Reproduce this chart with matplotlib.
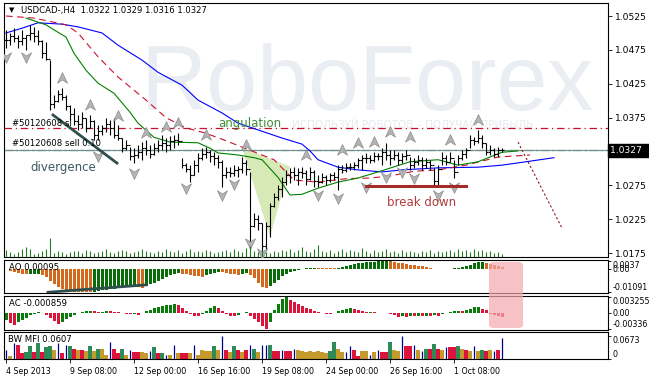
import numpy as np
import matplotlib.pyplot as plt
import matplotlib.transforms as mtransforms
from matplotlib.path import Path
from matplotlib.patches import Polygon, FancyBboxPatch

plt.rcParams['font.family'] = ['DejaVu Sans']
plt.rcParams['axes.unicode_minus'] = False

# --- dane: USDCAD H4, 125 swiec ---
highs = [1.0504, 1.0500, 1.0507, 1.0497, 1.0504, 1.0497, 1.0512, 1.0509, 1.0504, 1.0490,
         1.0487, 1.0460, 1.0408, 1.0416, 1.0419, 1.0408, 1.0394, 1.0389, 1.0379, 1.0383,
         1.0374, 1.0379, 1.0372, 1.0364, 1.0364, 1.0374, 1.0372, 1.0374, 1.0364, 1.0345,
         1.0342, 1.0332, 1.0330, 1.0335, 1.0339, 1.0342, 1.0335, 1.0338, 1.0342, 1.0349,
         1.0345, 1.0348, 1.0349, 1.0352, 1.0316, 1.0308, 1.0305, 1.0313, 1.0323, 1.0330,
         1.0332, 1.0327, 1.0324, 1.0320, 1.0313, 1.0302, 1.0302, 1.0305, 1.0304, 1.0317,
         1.0313, 1.0295, 1.0234, 1.0232, 1.0220, 1.0221, 1.0249, 1.0264, 1.0276, 1.0287,
         1.0298, 1.0301, 1.0302, 1.0301, 1.0302, 1.0298, 1.0302, 1.0298, 1.0290, 1.0293,
         1.0290, 1.0293, 1.0295, 1.0305, 1.0305, 1.0308, 1.0308, 1.0310, 1.0316, 1.0320,
         1.0323, 1.0320, 1.0324, 1.0323, 1.0330, 1.0338, 1.0327, 1.0327, 1.0324, 1.0323,
         1.0327, 1.0317, 1.0316, 1.0320, 1.0317, 1.0316, 1.0313, 1.0301, 1.0305, 1.0324,
         1.0320, 1.0324, 1.0313, 1.0320, 1.0327, 1.0330, 1.0349, 1.0346, 1.0357, 1.0349,
         1.0338, 1.0335, 1.0330, 1.0332, 1.0330]
lows = [1.0478, 1.0482, 1.0487, 1.0478, 1.0482, 1.0475, 1.0490, 1.0487, 1.0482, 1.0463,
        1.0460, 1.0386, 1.0389, 1.0398, 1.0401, 1.0386, 1.0372, 1.0364, 1.0357, 1.0360,
        1.0354, 1.0360, 1.0342, 1.0342, 1.0349, 1.0354, 1.0349, 1.0345, 1.0342, 1.0324,
        1.0327, 1.0313, 1.0308, 1.0316, 1.0313, 1.0320, 1.0316, 1.0320, 1.0324, 1.0327,
        1.0324, 1.0327, 1.0330, 1.0335, 1.0301, 1.0295, 1.0280, 1.0290, 1.0295, 1.0313,
        1.0316, 1.0310, 1.0305, 1.0301, 1.0273, 1.0286, 1.0287, 1.0289, 1.0287, 1.0293,
        1.0290, 1.0184, 1.0214, 1.0209, 1.0172, 1.0180, 1.0199, 1.0243, 1.0254, 1.0258,
        1.0276, 1.0279, 1.0283, 1.0276, 1.0286, 1.0276, 1.0283, 1.0273, 1.0273, 1.0279,
        1.0276, 1.0280, 1.0283, 1.0268, 1.0293, 1.0295, 1.0298, 1.0298, 1.0301, 1.0298,
        1.0308, 1.0308, 1.0310, 1.0313, 1.0305, 1.0313, 1.0305, 1.0313, 1.0305, 1.0308,
        1.0313, 1.0298, 1.0301, 1.0305, 1.0298, 1.0301, 1.0298, 1.0273, 1.0276, 1.0305,
        1.0305, 1.0310, 1.0286, 1.0305, 1.0313, 1.0316, 1.0330, 1.0335, 1.0338, 1.0330,
        1.0320, 1.0320, 1.0317, 1.0317, 1.0324]
closes = [1.0490, 1.0495, 1.0492, 1.0488, 1.0493, 1.0497, 1.0500, 1.0495, 1.0488, 1.0470,
          1.0462, 1.0395, 1.0400, 1.0410, 1.0405, 1.0392, 1.0380, 1.0370, 1.0365, 1.0375,
          1.0360, 1.0370, 1.0350, 1.0355, 1.0360, 1.0365, 1.0360, 1.0350, 1.0345, 1.0330,
          1.0335, 1.0318, 1.0320, 1.0325, 1.0330, 1.0328, 1.0322, 1.0330, 1.0335, 1.0338,
          1.0335, 1.0340, 1.0342, 1.0340, 1.0305, 1.0300, 1.0290, 1.0305, 1.0315, 1.0322,
          1.0325, 1.0318, 1.0315, 1.0310, 1.0290, 1.0295, 1.0293, 1.0298, 1.0300, 1.0308,
          1.0300, 1.0215, 1.0225, 1.0220, 1.0185, 1.0215, 1.0245, 1.0258, 1.0270, 1.0280,
          1.0290, 1.0295, 1.0290, 1.0295, 1.0293, 1.0285, 1.0295, 1.0282, 1.0280, 1.0288,
          1.0283, 1.0290, 1.0288, 1.0300, 1.0298, 1.0303, 1.0302, 1.0305, 1.0312, 1.0315,
          1.0315, 1.0312, 1.0318, 1.0318, 1.0325, 1.0320, 1.0315, 1.0320, 1.0312, 1.0318,
          1.0320, 1.0305, 1.0310, 1.0312, 1.0305, 1.0310, 1.0305, 1.0282, 1.0300, 1.0315,
          1.0310, 1.0315, 1.0295, 1.0315, 1.0322, 1.0328, 1.0342, 1.0340, 1.0345, 1.0338,
          1.0325, 1.0328, 1.0322, 1.0328, 1.0327]
volumes = [700, 500, 300, 500, 800, 1000, 800, 300, 400, 600,
           800, 1900, 400, 600, 500, 300, 500, 600, 600, 400,
           700, 600, 400, 500, 600, 800, 500, 400, 600, 700,
           600, 400, 500, 600, 800, 600, 500, 400, 600, 500,
           800, 600, 500, 700, 400, 600, 800, 500, 600, 500,
           700, 600, 400, 500, 600, 700, 500, 800, 600, 500,
           900, 1100, 600, 500, 700, 500, 400, 600, 500, 700,
           600, 800, 500, 700, 1000, 600, 500, 800, 1200, 600,
           500, 700, 400, 600, 800, 500, 700, 600, 500, 900,
           600, 400, 700, 500, 600, 800, 500, 600, 400, 700,
           500, 600, 500, 400, 600, 500, 700, 400, 600, 500,
           600, 700, 500, 800, 600, 700, 500, 800, 600, 700,
           500, 600, 400, 500, 300]

# srednie (indeks swiecy, cena)
blue_idx = [0, 4, 8, 14, 18, 24, 28, 34, 38, 44, 48, 54, 58, 64, 69, 74, 76, 78, 83, 88, 94, 99, 108, 118, 124, 130, 137]
blue_val = [1.0500, 1.0507, 1.0515, 1.0513, 1.0509, 1.0500, 1.0482, 1.0460, 1.0442, 1.0423, 1.0401, 1.0382, 1.0367,
            1.0355, 1.0345, 1.0336, 1.0326, 1.0313, 1.0302, 1.0298, 1.0295, 1.0298, 1.0301, 1.0302, 1.0305, 1.0310, 1.0316]
red_idx = [0, 7, 15, 18, 23, 28, 35, 40, 45, 50, 55, 61, 67, 72, 78, 85, 91, 96, 102, 108, 115, 123, 131]
red_val = [1.0525, 1.0522, 1.0512, 1.0500, 1.0465, 1.0435, 1.0401, 1.0375, 1.0360, 1.0352, 1.0341, 1.0327,
           1.0313, 1.0283, 1.0280, 1.0285, 1.0286, 1.0289, 1.0296, 1.0298, 1.0305, 1.0317, 1.0320]
green_idx = [5, 10, 13, 15, 17, 20, 23, 27, 31, 33, 37, 41, 48, 51, 53, 58, 62, 64, 68, 71, 74, 78, 83, 88,
             93, 101, 108, 113, 118, 124, 128]
green_val = [1.0522, 1.0512, 1.0501, 1.0494, 1.0470, 1.0445, 1.0426, 1.0411, 1.0383, 1.0367, 1.0346, 1.0339,
             1.0338, 1.0330, 1.0323, 1.0320, 1.0316, 1.0313, 1.0287, 1.0261, 1.0262, 1.0271, 1.0280, 1.0286,
             1.0295, 1.0310, 1.0313, 1.0305, 1.0310, 1.0324, 1.0326]

# fraktale
up_idx = [14, 21, 28, 35, 40, 43, 50, 60, 75, 84, 88, 92, 96, 101, 111, 118]
up_val = [1.0433, 1.0394, 1.0378, 1.0352, 1.0361, 1.0367, 1.0349, 1.0335, 1.0320, 1.0327, 1.0338, 1.0339,
          1.0354, 1.0346, 1.0342, 1.0372]
dn_idx = [0, 5, 23, 32, 45, 54, 57, 61, 64, 78, 83, 90, 95, 99, 102, 108, 112]
dn_val = [1.0465, 1.0465, 1.0318, 1.0293, 1.0271, 1.0261, 1.0277, 1.0190, 1.0175, 1.0261, 1.0257, 1.0273,
          1.0288, 1.0295, 1.0286, 1.0261, 1.0273]

# Awesome Oscillator, Accelerator (x 0.001)
ao = [-0.3, -1.0, -1.5, -2.0, -2.3, -2.5, -2.4, -2.3, -2.2, -3.0,
      -4.0, -5.5, -7.0, -8.5, -9.5, -10.2, -10.45, -10.6, -10.75, -10.85,
      -10.9, -10.91, -10.7, -10.4, -10.1, -9.8, -9.5, -9.2, -8.9, -8.6,
      -8.4, -8.2, -8.0, -8.4, -8.8, -8.2, -7.3, -6.4, -5.5, -4.6,
      -3.8, -3.0, -2.4, -1.9, -2.2, -2.6, -3.0, -3.3, -3.5, -3.6,
      -3.0, -2.4, -1.8, -1.4, -1.7, -2.0, -2.3, -2.5, -2.7, -2.4,
      -2.1, -3.0, -4.5, -6.5, -8.5, -9.0, -8.0, -6.5, -5.0, -3.5,
      -2.3, -1.5, -1.0, -0.6, -0.3, 0.2, 0.4, 0.5, 0.4, 0.3,
      0.25, 0.2, 0.15, 0.5, 0.9, 1.4, 1.8, 2.2, 2.5, 2.8,
      3.0, 3.2, 3.4, 3.5, 3.6, 3.7, 3.5, 3.2, 2.9, 2.6,
      2.3, 2.0, 1.7, 1.4, 1.1, 0.8, 0.4, 0.1, -0.1, -0.2,
      -0.3, 0.0, 0.3, 0.6, 0.9, 1.2, 1.8, 2.5, 3.0, 3.3,
      2.8, 2.3, 1.8, 1.3, 0.95]
ac = [-1.6, -2.2, -2.6, -2.0, -1.5, -1.0, -0.5, -0.2, 0.1, 0.0,
      -0.4, -1.0, -1.8, -2.4, -2.0, -1.4, -0.8, -0.4, -0.1, 0.1,
      0.3, 0.4, 0.3, 0.2, 0.25, 0.35, 0.3, 0.2, 0.1, 0.0,
      -0.2, -0.3, -0.2, -0.4, -0.1, 0.3, 0.6, 0.9, 1.2, 1.4,
      1.6, 1.7, 1.8, 1.6, 1.0, 0.4, -0.3, -0.6, -0.7, -0.2,
      0.4, 1.0, 1.5, 1.0, 0.4, -0.3, -0.6, -0.7, -0.4, -0.1,
      0.1, -0.7, -1.3, -2.0, -2.8, -3.36, -2.0, 0.6, 1.8, 2.8,
      3.255, 2.7, 2.3, 1.8, 1.4, 1.0, 0.7, 0.4, 0.1, -0.1,
      -0.2, -0.3, -0.1, 0.3, 0.6, 0.8, 0.9, 0.7, 0.5, 0.3,
      0.1, 0.2, 0.1, 0.0, -0.1, 0.0, -0.3, -0.5, -0.8, -0.7,
      -0.8, -0.6, -0.7, -0.6, -0.7, -0.6, -0.7, -0.5, -0.6, -0.3,
      -0.1, 0.1, 0.3, 0.4, 0.3, 0.5, 0.8, 1.1, 1.2, 0.8,
      0.5, -0.2, -0.4, -0.6, -0.859]
# BW MFI (x 0.001) i kolory: g=zielony, r=czerwony, y=fade, b=fake
mfi = [27, 10, 47, 40, 17, 20, 37, 20, 47, 20,
       34, 37, 27, 47, 17, 40, 37, 30, 27, 27,
       24, 37, 24, 30, 30, 13, 50, 30, 17, 30,
       13, 27, 20, 20, 20, 17, 24, 34, 17, 17,
       13, 13, 40, 17, 17, 17, 17, 40, 13, 27,
       24, 24, 37, 27, 67.3, 27, 20, 37, 27, 20,
       27, 40, 30, 20, 40, 40, 40, 24, 24, 27,
       24, 24, 30, 27, 24, 20, 24, 20, 24, 20,
       17, 24, 50, 30, 20, 20, 37, 27, 10, 24,
       24, 13, 20, 27, 20, 20, 50, 27, 24, 67.3,
       37, 37, 40, 27, 24, 30, 30, 44, 30, 27,
       34, 34, 34, 37, 30, 27, 24, 37, 24, 27,
       24, 27, 24, 27, 60.7]
mfi_kod = ("bybrrggrgr" "ggybrbgryr" "ygygyybrrg" "ybrryybgrg" "bybyrrybyy"
           "yygybrygry" "rbgybbgrrb" "rrbyyyyyyy" "yggyybbrry" "ybybrrgyyb"
           "rrbybgrgry" "brrgyrybyg" "rybrb")

date_idx = [0, 16, 32, 48, 64, 80, 96, 112]
date_lab = ['4 Sep 2013', '9 Sep 08:00', '12 Sep 00:00', '16 Sep 16:00', '19 Sep 08:00',
            '24 Sep 00:00', '26 Sep 16:00', '1 Oct 08:00']
price_ticks = [1.0525, 1.0475, 1.0425, 1.0375, 1.0275, 1.0225, 1.0175]
bid = 1.0327
sl_level = 1.0360
sell_level = 1.0328
brk_level = 1.0274

W, H = 649, 379
FS = 6.6     # etykiety osi cen
FS_I = 5.7   # etykiety osi wskaznikow
FS_T = 6.1   # tytuly i etykiety
FS_D = 5.7   # daty


def rect(l, t, r, b):
    return [l / W, 1 - b / H, (r - l) / W, (b - t) / H]


def fx(p):
    return p / W


def fy(p):
    return 1 - p / H


fig = plt.figure(figsize=(W / 100, H / 100), dpi=100)
ax = fig.add_axes(rect(4, 3, 608, 257))
ax_ao = fig.add_axes(rect(4, 260, 608, 293))
ax_ac = fig.add_axes(rect(4, 296, 608, 330))
ax_mfi = fig.add_axes(rect(4, 332, 608, 359))

x = np.arange(len(highs))
hi = np.array(highs)
lo = np.array(lows)
cl = np.array(closes)
op = np.r_[cl[0], cl[:-1]]

for a in (ax, ax_ao, ax_ac, ax_mfi):
    a.set_xlim(-0.5, 150.5)
    for s in a.spines.values():
        s.set_linewidth(0.8)
        s.set_color('black')
    a.yaxis.tick_right()
    a.tick_params(axis='y', left=False, labelleft=False, right=True, labelright=True,
                  direction='out', length=3, width=0.6, labelsize=FS, pad=2)
    a.tick_params(axis='x', bottom=False, labelbottom=False)
for a in (ax_ao, ax_ac, ax_mfi):
    a.tick_params(axis='y', labelsize=FS_I, length=2, pad=1)

# znak wodny
ax.text(fx(140), fy(110), 'RoboForex', transform=fig.transFigure, fontsize=66,
        family='Liberation Sans', color='#eaeef2', zorder=0)
ax.text(fx(292), fy(125), 'ИСПОЛЬЗУЙ РОБОТОВ – ПОЛУЧАЙ ПРИБЫЛЬ', transform=fig.transFigure,
        fontsize=7.5, color='#e6eaee', va='center', zorder=0)

# trojkat "angulation"
ax.add_patch(Polygon([(59, 1.0331), (71, 1.0303), (66, 1.0200)], closed=True,
                     facecolor='#d8e9b8', edgecolor='none', zorder=1))

# poziomy zlecenia
ax.axhline(sl_level, color='#c8102e', lw=0.9, ls=(0, (6, 3, 1, 3)), zorder=2)
ax.axhline(sell_level, color='#008000', lw=0.9, ls=(0, (7, 2, 2, 2)), zorder=2)
ax.axhline(bid, color='#778899', lw=0.8, zorder=2)

# srednie
ax.plot(blue_idx, blue_val, color='#0000ff', lw=0.8, zorder=3)
ax.plot(red_idx, red_val, color='#c8102e', lw=0.8, ls=(0, (6, 4)), zorder=3)
ax.plot(green_idx, green_val, color='#008000', lw=0.8, zorder=3)

# swiece OHLC
ax.vlines(x, lo, hi, color='black', lw=0.8, zorder=4)
ax.hlines(op, x - 0.45, x, color='black', lw=0.8, zorder=4)
ax.hlines(cl, x, x + 0.45, color='black', lw=0.8, zorder=4)

# fraktale
up_m = Path([(0, 1), (0.85, -0.8), (0, -0.25), (-0.85, -0.8), (0, 1)],
            [Path.MOVETO, Path.LINETO, Path.LINETO, Path.LINETO, Path.CLOSEPOLY])
dn_m = Path([(0, -1), (0.85, 0.8), (0, 0.25), (-0.85, 0.8), (0, -1)],
            [Path.MOVETO, Path.LINETO, Path.LINETO, Path.LINETO, Path.CLOSEPOLY])
ax.plot(up_idx, up_val, ls='none', marker=up_m, ms=8.5, mfc='#b4b4b4', mec='#8c8c8c', mew=0.5, zorder=5)
ax.plot(dn_idx, dn_val, ls='none', marker=dn_m, ms=8.5, mfc='#b4b4b4', mec='#8c8c8c', mew=0.5, zorder=5)

# analiza graficzna
ax.plot([11.75, 27.75], [1.0379, 1.0308], color='#2f4f4f', lw=2, zorder=6)
ax.text(fx(30), fy(168), 'divergence', transform=fig.transFigure, fontsize=8.5,
        color='#3b5a62', va='center', zorder=6)
ax.text(fx(218), fy(123), 'angulation', transform=fig.transFigure, fontsize=8.5,
        color='#3f8f3a', va='center', zorder=6)
ax.plot([90, 115], [brk_level, brk_level], color='#a52a2a', lw=2.2, zorder=6)
ax.text(fx(387), fy(203), 'break down', transform=fig.transFigure, fontsize=8.5,
        color='#b03c3c', va='center', zorder=6)
ax.plot([128, 139], [1.0339, 1.0212], color='#8b1a1a', lw=0.8, ls=(0, (2, 2)), zorder=6)

ax.set_ylim(1.01695, 1.05442)
ax.set_yticks(price_ticks)
ax.set_yticklabels([f'{p:.4f}' for p in price_ticks])
blend = mtransforms.blended_transform_factory(ax.transAxes, ax.transData)
ax.text(1.004, bid, '1.0327  ', transform=blend, color='white', fontsize=FS, va='center',
        ha='left', bbox=dict(facecolor='black', edgecolor='black', pad=1.6), zorder=7)

# wolumen (osobna przezroczysta os na dole glownego okna)
ax_v = fig.add_axes(rect(4, 3, 608, 257), frameon=False)
ax_v.set_xlim(-0.5, 150.5)
ax_v.set_ylim(0, 25300)
ax_v.vlines(x, 0, volumes, color='#237a23', lw=0.8)
ax_v.axis('off')

fig.text(fx(12), fy(10), '▼', fontsize=5, va='center', ha='center')
fig.text(fx(21), fy(11), 'USDCAD-,H4  1.0322 1.0329 1.0316 1.0327', fontsize=FS_T, va='center')
ax.text(fx(12), fy(123), '#50120608 sl', transform=fig.transFigure, fontsize=FS_T, va='center', zorder=6)
ax.text(fx(12), fy(143), '#50120608 sell 0.10', transform=fig.transFigure, fontsize=FS_T,
        va='center', zorder=6)

# AO
ao_v = np.array(ao) * 1e-3
ao_col = ['#d2691e' if i > 0 and ao_v[i] < ao_v[i - 1] else '#0a6b0a' for i in range(len(ao_v))]
ax_ao.bar(x, ao_v, width=0.75, color=ao_col, linewidth=0)
ax_ao.plot([10.5, 35], [-0.01095, -0.0075], color='#2f4f4f', lw=2)
ax_ao.set_ylim(-0.0113, 0.0041)
ax_ao.set_yticks([0.0037, 0.0, -0.01091])
ax_ao.set_yticklabels(['0.0037', '0.00', '-0.01091'])
fig.text(fx(9), fy(268), 'AO 0.00095', fontsize=FS_T, va='center')

# AC
ac_v = np.array(ac) * 1e-3
ac_col = ['#dc143c' if i > 0 and ac_v[i] < ac_v[i - 1] else '#0a7a0a' for i in range(len(ac_v))]
ax_ac.bar(x, ac_v, width=0.75, color=ac_col, linewidth=0)
ax_ac.set_ylim(-0.0036, 0.0035)
ax_ac.set_yticks([0.003255, 0.0, -0.00336])
ax_ac.set_yticklabels(['0.003255', '0.00', '-0.00336'])
fig.text(fx(9), fy(304), 'AC -0.000859', fontsize=FS_T, va='center')

# BW MFI
kolory = {'g': '#2e8b57', 'r': '#dc143c', 'y': '#c49a2c', 'b': '#00008b'}
mfi_v = np.array(mfi) * 1e-3
kody = np.array(list(mfi_kod))
szer = kody != 'b'
ax_mfi.bar(x[szer], mfi_v[szer], width=0.95, color=[kolory[k] for k in kody[szer]], linewidth=0)
ax_mfi.vlines(x[~szer], 0, mfi_v[~szer], color=kolory['b'], lw=0.9)
ax_mfi.set_ylim(0, 0.078)
ax_mfi.set_yticks([0.0673, 0.0])
ax_mfi.set_yticklabels(['0.0673', '0'])
fig.text(fx(8), fy(340), 'BW MFI 0.0607', fontsize=FS_T, va='center')

ax_mfi.set_xticks(date_idx)
ax_mfi.set_xticklabels(date_lab)
ax_mfi.tick_params(axis='x', bottom=True, labelbottom=True, direction='out', length=3,
                   width=0.6, labelsize=FS_D, pad=2.5)
for t in ax_mfi.get_xticklabels():
    t.set_horizontalalignment('left')

# wyrownanie etykiet osi wskaznikow
for a in (ax_ao, ax_ac, ax_mfi):
    labs = a.get_yticklabels()
    labs[0].set_verticalalignment('top')
    labs[-1].set_verticalalignment('bottom')

# rozowe podswietlenie
fig.patches.append(FancyBboxPatch((fx(489), fy(328)), fx(34), (328 - 262) / H,
                                  boxstyle='round,pad=0,rounding_size=0.008',
                                  transform=fig.transFigure, facecolor='#f5a9af',
                                  edgecolor='none', alpha=0.7, zorder=10))

plt.savefig('out.png', dpi=100)
